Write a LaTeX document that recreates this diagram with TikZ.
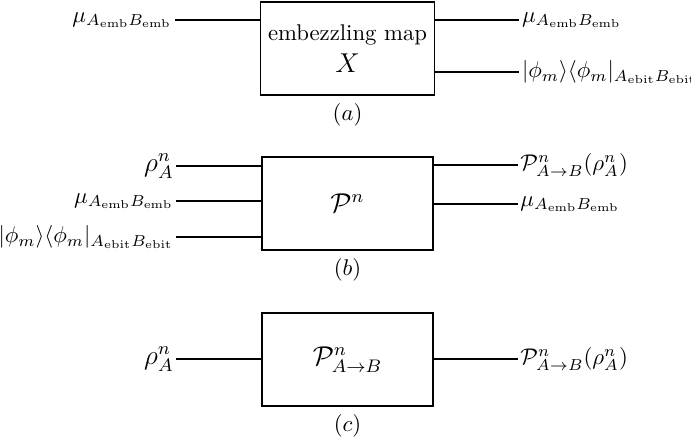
\documentclass[tikz,border=0pt]{standalone}
\usepackage{amsfonts,amssymb,amsmath}
\usepackage{tikz}
\usetikzlibrary{positioning,calc}

\begin{document}
\begin{tikzpicture}[box/.style={draw,semithick,minimum width=2.645cm,minimum height=1.439cm,align=center},
wire/.style={thick},lbl/.style={inner sep=1pt}]
\useasboundingbox(0,0)rectangle(10.69,6.82);
\node[box](X)at(5.376,6.072){embezzling map\\[2pt]{\large $X$}};
\node[box](P)at(5.376,3.674){\large $\mathcal{P}^n$};
\node[box](Q)at(5.376,1.261){\large $\mathcal{P}^n_{A\to B}$};
\node[below=0pt of X](ca){$(a)$};
\node[below=0pt of P](cb){$(b)$};
\node[below=0pt of Q](cc){$(c)$};
%(a)
\coordinate(Xi)at($(X.north west)+(0,-0.294)$);
\coordinate(Xo1)at($(X.north east)+(0,-0.294)$);
\coordinate(Xo2)at($(X.north east)+(0,-1.098)$);
\node[lbl,left=1.315cm of Xi](muXi){$\mu_{A_{\mathrm{emb}}B_{\mathrm{emb}}}$};
\node[lbl,right=1.3cm of Xo1](muXo){$\mu_{A_{\mathrm{emb}}B_{\mathrm{emb}}}$};
\node[lbl,right=1.3cm of Xo2](phiXo){$|\phi_m\rangle\langle\phi_m|_{A_{\mathrm{ebit}}B_{\mathrm{ebit}}}$};
\draw[wire](muXi.east)--(Xi);
\draw[wire](Xo1)--(muXo.west);
\draw[wire](Xo2)--(phiXo.west);
%(b)
\coordinate(Pi1)at($(P.north west)+(0,-0.155)$);
\coordinate(Pi2)at($(P.north west)+(0,-0.696)$);
\coordinate(Pi3)at($(P.north west)+(0,-1.253)$);
\coordinate(Po1)at($(P.north east)+(0,-0.14)$);
\coordinate(Po2)at($(P.north east)+(0,-0.743)$);
\node[lbl,left=1.315cm of Pi1](rhoPi){\large $\rho_A^n$};
\node[lbl,left=1.315cm of Pi2](muPi){$\mu_{A_{\mathrm{emb}}B_{\mathrm{emb}}}$};
\node[lbl,left=1.315cm of Pi3](phiPi){$|\phi_m\rangle\langle\phi_m|_{A_{\mathrm{ebit}}B_{\mathrm{ebit}}}$};
\node[lbl,right=1.3cm of Po1](chPo){$\mathcal{P}^n_{A\to B}(\rho^n_A)$};
\node[lbl,right=1.3cm of Po2](muPo){$\mu_{A_{\mathrm{emb}}B_{\mathrm{emb}}}$};
\draw[wire](rhoPi.east)--(Pi1);
\draw[wire](muPi.east)--(Pi2);
\draw[wire](phiPi.east)--(Pi3);
\draw[wire](Po1)--(chPo.west);
\draw[wire](Po2)--(muPo.west);
%(c)
\coordinate(Qi)at(Q.west);
\coordinate(Qo)at(Q.east);
\node[lbl,left=1.315cm of Qi](rhoQi){\large $\rho_A^n$};
\node[lbl,right=1.3cm of Qo](chQo){$\mathcal{P}^n_{A\to B}(\rho^n_A)$};
\draw[wire](rhoQi.east)--(Qi);
\draw[wire](Qo)--(chQo.west);
\end{tikzpicture}
\end{document}
